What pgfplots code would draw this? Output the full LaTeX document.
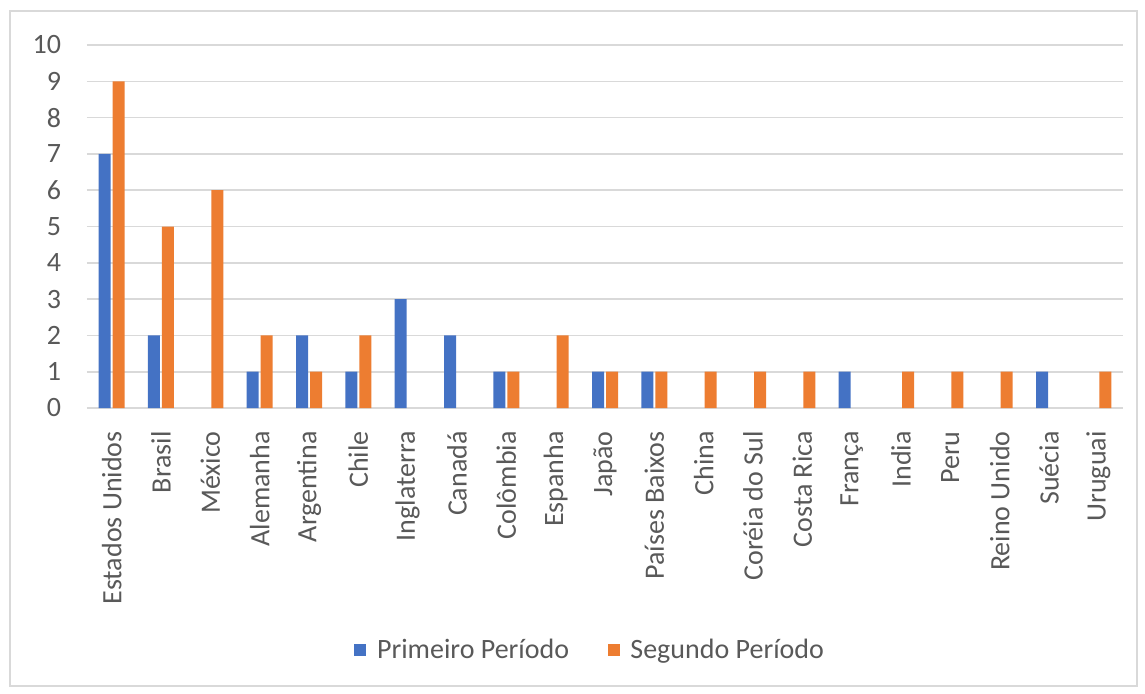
\documentclass[border=0pt]{standalone}
\usepackage{fontspec}
\setmainfont{Carlito}
\usepackage{pgfplots}
\pgfplotsset{compat=1.18}
\definecolor{cblue}{HTML}{4472C4}
\definecolor{corange}{HTML}{ED7D31}
\definecolor{cgrid}{HTML}{D9D9D9}
\definecolor{ctext}{HTML}{595959}
\begin{document}
\begin{tikzpicture}
\useasboundingbox (-65.25pt,-213.75pt) rectangle (793.5pt,306pt);
\draw[cgrid, line width=1pt] (-57.75pt,-208.5pt) rectangle (787.5pt,297.75pt);
\begin{axis}[
  at={(0,0)}, anchor=south west,
  scale only axis, width=777pt, height=272.25pt,
  ybar=1.5pt, bar width=9pt,
  xmin=-0.5, xmax=20.5, ymin=0, ymax=10,
  xtick={0,...,20},
  xticklabels={Estados Unidos,Brasil,México,Alemanha,Argentina,Chile,Inglaterra,Canadá,Colômbia,Espanha,Japão,Países Baixos,China,Coréia do Sul,Costa Rica,França,India,Peru,Reino Unido,Suécia,Uruguai},
  ytick={0,...,10},
  axis line style={draw=none},
  major tick length=0pt,
  ymajorgrids, grid style={cgrid, line width=1.2pt},
  xticklabel style={rotate=90, anchor=east, font=\fontsize{21pt}{24pt}\selectfont, text=ctext, xshift=-14pt},
  yticklabel style={font=\fontsize{21pt}{24pt}\selectfont, text=ctext, xshift=-16pt},
  /pgf/number format/assume math mode=true,
  legend style={at={(0.486,-0.667)}, anchor=center, draw=none, font=\fontsize{21pt}{24pt}\selectfont, text=ctext, legend columns=2,
    /tikz/every odd column/.append style={column sep=6pt},
    /tikz/every even column/.append style={column sep=27pt}},
  legend image code/.code={\fill[#1] (0pt,-4.5pt) rectangle (9pt,4.5pt);},
]
\addplot[fill=cblue, draw=none] coordinates {(0,7) (1,2) (3,1) (4,2) (5,1) (6,3) (7,2) (8,1) (10,1) (11,1) (15,1) (19,1)};
\addplot[fill=corange, draw=none] coordinates {(0,9) (1,5) (2,6) (3,2) (4,1) (5,2) (8,1) (9,2) (10,1) (11,1) (12,1) (13,1) (14,1) (16,1) (17,1) (18,1) (20,1)};
\legend{Primeiro Período, Segundo Período}
\end{axis}
\end{tikzpicture}
\end{document}
